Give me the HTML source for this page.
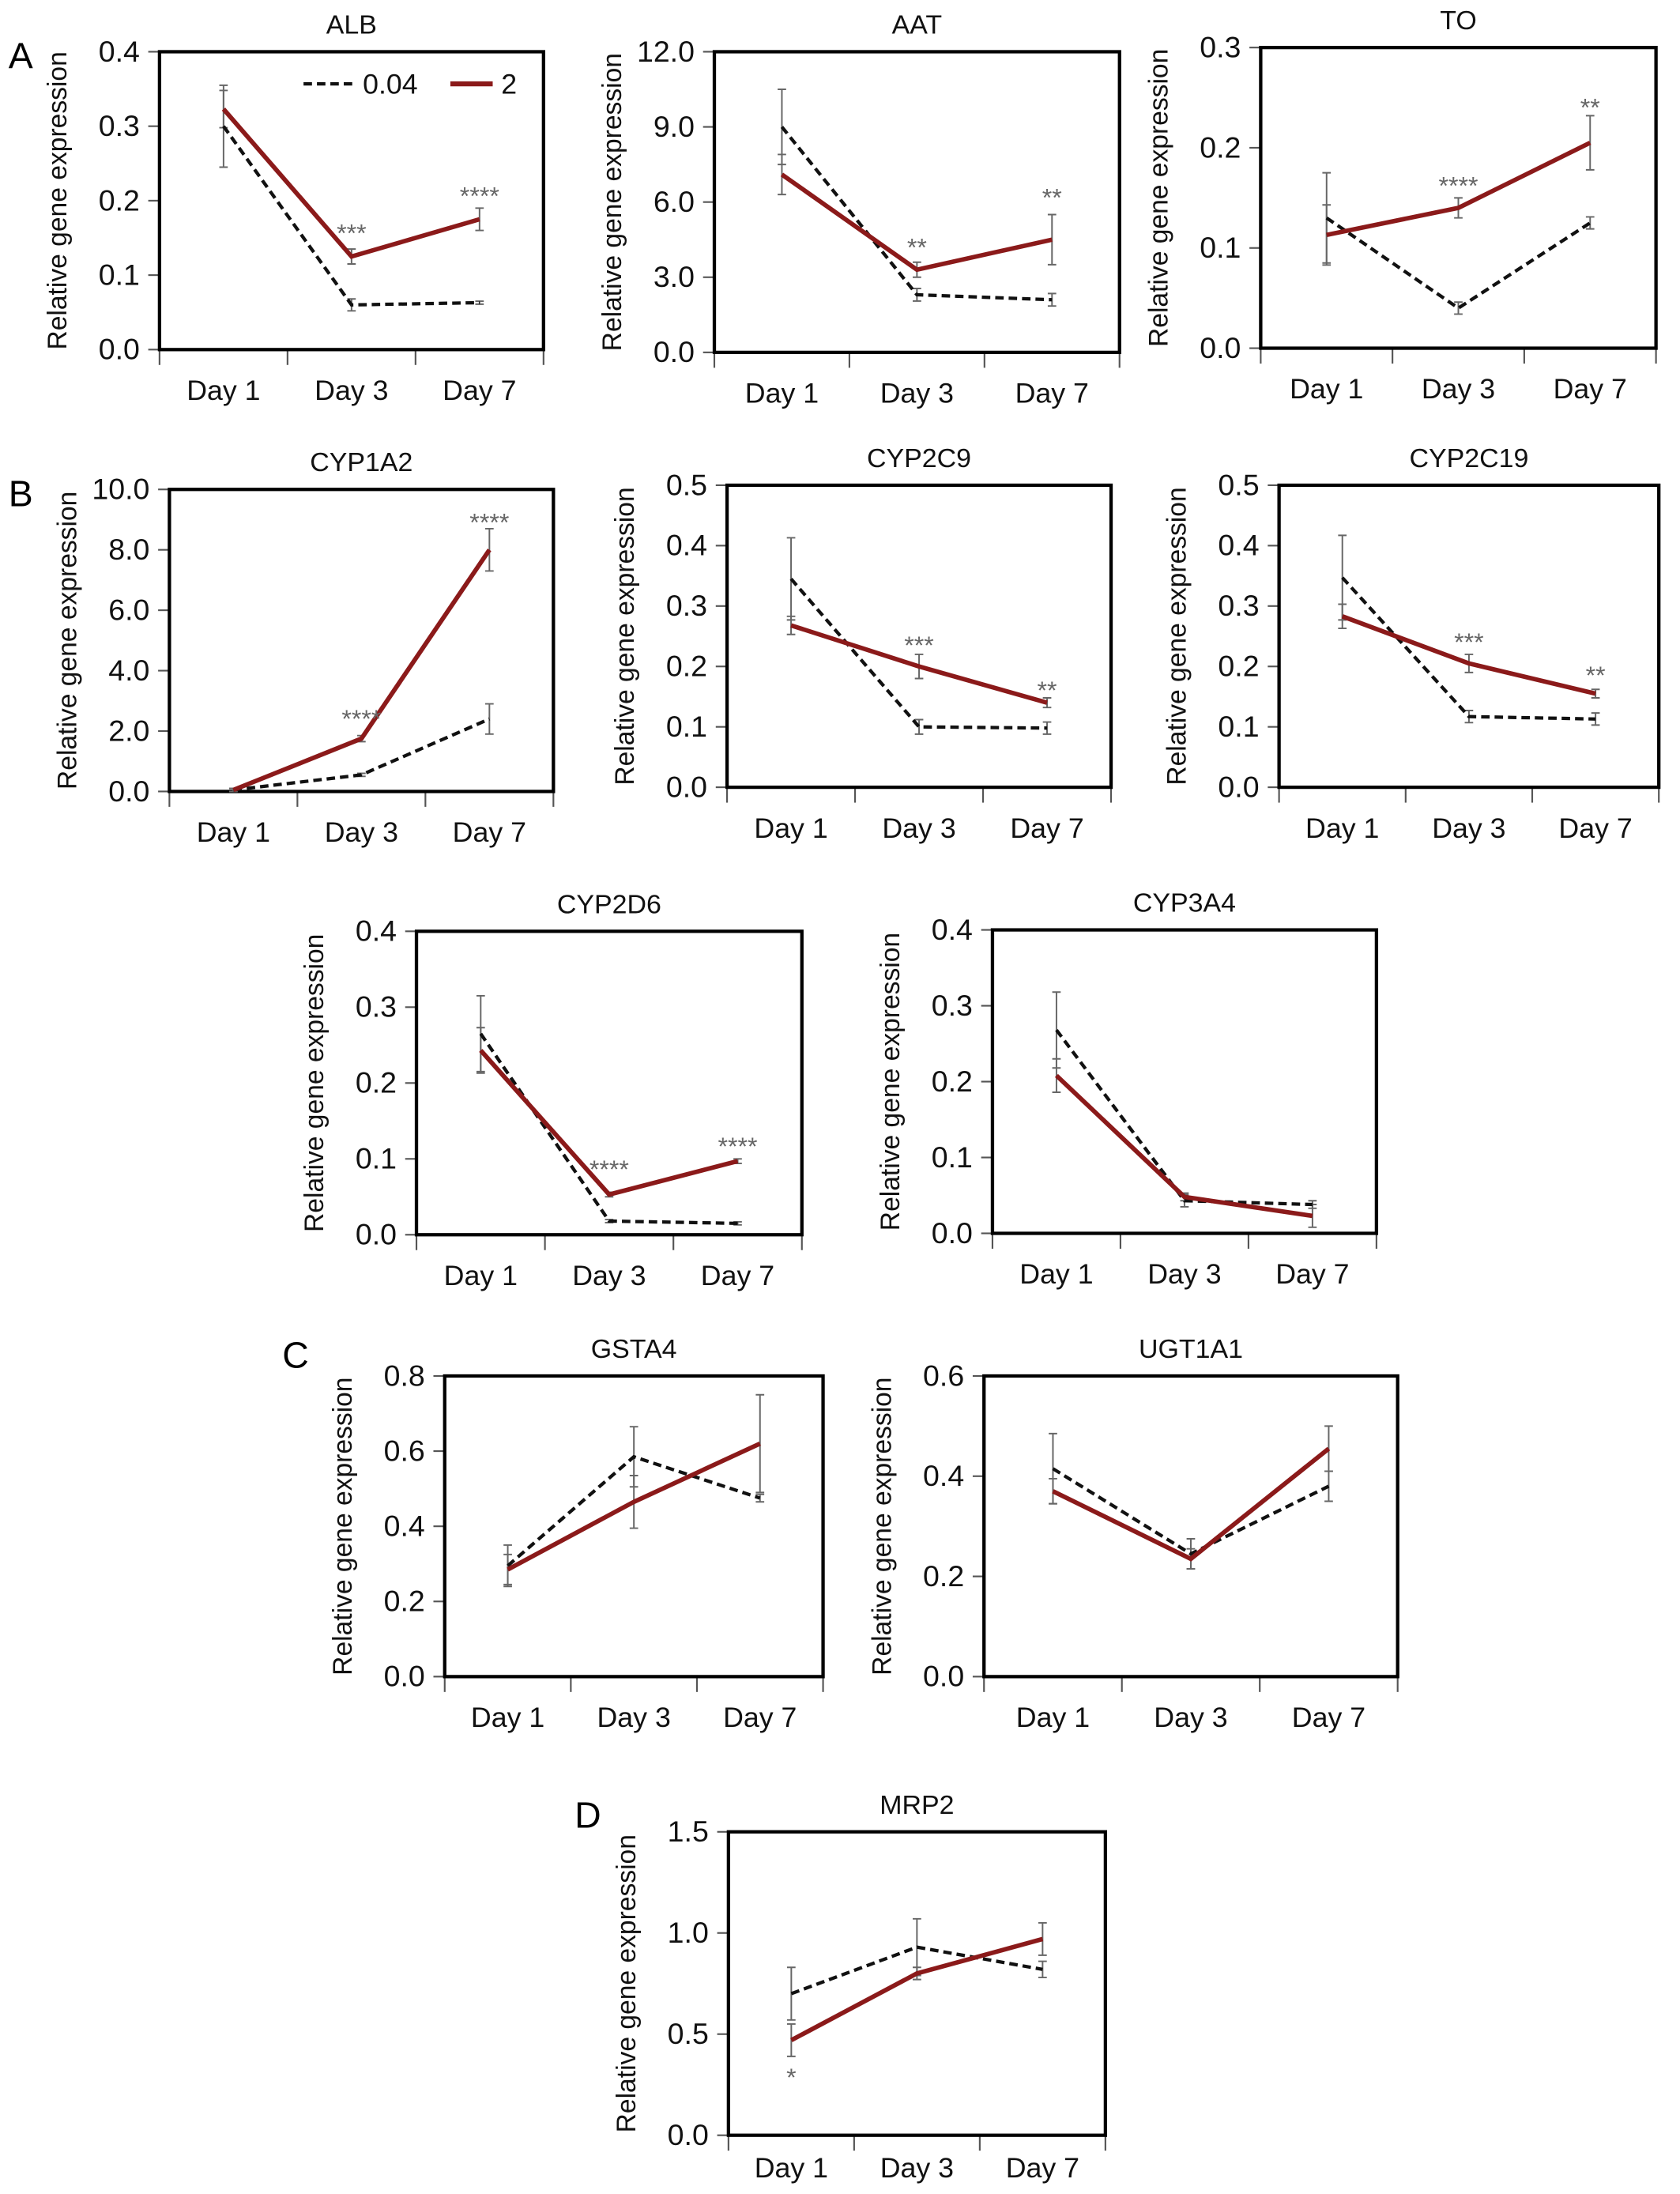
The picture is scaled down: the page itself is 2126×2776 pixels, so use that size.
<!DOCTYPE html>
<html><head><meta charset="utf-8">
<style>
html,body{margin:0;padding:0;background:#fff;}
svg{display:block;font-family:"Liberation Sans",Arial,sans-serif;}
</style></head>
<body>
<svg id="fig" xmlns="http://www.w3.org/2000/svg" width="2126" height="2776" viewBox="0 0 1190 1569" preserveAspectRatio="none">
<rect x="0" y="0" width="1190" height="1569" fill="#fff"/>
<text x="6" y="49" font-size="26">A</text>
<text x="6" y="362" font-size="26">B</text>
<text x="200" y="978" font-size="26">C</text>
<text x="407" y="1307" font-size="26">D</text>
</svg>
<script>
const days = ["Day 1","Day 3","Day 7"];

const ALB_low = [0.30,0.06,0.063];   const ALB_lowErr = [0.055,0.008,0.002];
const ALB_high = [0.323,0.125,0.175]; const ALB_highErr = [0.025,0.01,0.015];
const ALB_stars = ["","***","****"]; const ALB_starVal = [0,0.16,0.21];
const ALB_ticks = ["0.0","0.1","0.2","0.3","0.4"];

const AAT_low = [9.0,2.3,2.1];   const AAT_lowErr = [1.5,0.25,0.25];
const AAT_high = [7.1,3.3,4.5];  const AAT_highErr = [0.8,0.3,1.0];
const AAT_stars = ["","**","**"]; const AAT_starVal = [0,4.3,6.3];
const AAT_ticks = ["0.0","3.0","6.0","9.0","12.0"];

const TO_low = [0.13,0.04,0.125];  const TO_lowErr = [0.045,0.006,0.006];
const TO_high = [0.113,0.14,0.205]; const TO_highErr = [0.03,0.01,0.027];
const TO_stars = ["","****","**"]; const TO_starVal = [0,0.165,0.243];
const TO_ticks = ["0.0","0.1","0.2","0.3"];

const CYP1A2_low = [0.05,0.55,2.4];  const CYP1A2_lowErr = [0.05,0.05,0.5];
const CYP1A2_high = [0.05,1.75,8.0]; const CYP1A2_highErr = [0.05,0.1,0.7];
const CYP1A2_stars = ["","****","****"]; const CYP1A2_starVal = [0,2.5,9.0];
const CYP1A2_ticks = ["0.0","2.0","4.0","6.0","8.0","10.0"];

const CYP2C9_low = [0.345,0.1,0.098];  const CYP2C9_lowErr = [0.068,0.012,0.01];
const CYP2C9_high = [0.268,0.2,0.14];  const CYP2C9_highErr = [0.015,0.02,0.008];
const CYP2C9_stars = ["","***","**"]; const CYP2C9_starVal = [0,0.24,0.165];
const CYP2C9_ticks = ["0.0","0.1","0.2","0.3","0.4","0.5"];

const CYP2C19_low = [0.347,0.117,0.113]; const CYP2C19_lowErr = [0.07,0.01,0.01];
const CYP2C19_high = [0.283,0.205,0.155]; const CYP2C19_highErr = [0.02,0.015,0.007];
const CYP2C19_stars = ["","***","**"]; const CYP2C19_starVal = [0,0.245,0.19];
const CYP2C19_ticks = ["0.0","0.1","0.2","0.3","0.4","0.5"];

const CYP2D6_low = [0.265,0.018,0.015]; const CYP2D6_lowErr = [0.05,0.002,0.002];
const CYP2D6_high = [0.243,0.053,0.097]; const CYP2D6_highErr = [0.03,0.003,0.003];
const CYP2D6_stars = ["","****","****"]; const CYP2D6_starVal = [0,0.09,0.12];
const CYP2D6_ticks = ["0.0","0.1","0.2","0.3","0.4"];

const CYP3A4_low = [0.268,0.043,0.038]; const CYP3A4_lowErr = [0.05,0.008,0.005];
const CYP3A4_high = [0.208,0.048,0.023]; const CYP3A4_highErr = [0.022,0.005,0.015];
const CYP3A4_stars = ["","",""]; const CYP3A4_starVal = [0,0,0];
const CYP3A4_ticks = ["0.0","0.1","0.2","0.3","0.4"];

const GSTA4_low = [0.295,0.585,0.475]; const GSTA4_lowErr = [0.055,0.08,0.01];
const GSTA4_high = [0.285,0.465,0.62]; const GSTA4_highErr = [0.04,0.07,0.13];
const GSTA4_stars = ["","",""]; const GSTA4_starVal = [0,0,0];
const GSTA4_ticks = ["0.0","0.2","0.4","0.6","0.8"];

const UGT1A1_low = [0.415,0.245,0.38]; const UGT1A1_lowErr = [0.07,0.03,0.03];
const UGT1A1_high = [0.37,0.235,0.455]; const UGT1A1_highErr = [0.025,0.02,0.045];
const UGT1A1_stars = ["","",""]; const UGT1A1_starVal = [0,0,0];
const UGT1A1_ticks = ["0.0","0.2","0.4","0.6"];

const MRP2_low = [0.70,0.93,0.82]; const MRP2_lowErr = [0.13,0.14,0.04];
const MRP2_high = [0.47,0.80,0.97]; const MRP2_highErr = [0.08,0.03,0.08];
const MRP2_stars = ["*","",""]; const MRP2_starVal = [0.3,0,0];
const MRP2_ticks = ["0.0","0.5","1.0","1.5"];

const svg = document.getElementById('fig');
const NS = "http://www.w3.org/2000/svg";
function mk(tag, attrs, parent){
  const e = document.createElementNS(NS, tag);
  for (const k in attrs) e.setAttribute(k, attrs[k]);
  (parent||svg).appendChild(e);
  return e;
}

function panel(title, x0, x1, y0, y1, ticks, low, lowErr, high, highErr, stars, starVal, dayOff){
  dayOff = dayOff || 36;
  const g = mk('g', {});
  
  
  const ymax = parseFloat(ticks[ticks.length-1]);
  const ys = v => y1 - (v / ymax) * (y1 - y0);
  const seg = (x1 - x0) / 3;
  const xs = i => x0 + seg * (i + 0.5);

  const t = mk('text', {x:(x0+x1)/2, y:y0-13, 'font-size':19, 'text-anchor':'middle', fill:'#111'}, g);
  t.textContent = title;
  
  

  const yl = mk('text', {x:0, y:0, 'font-size':19, 'text-anchor':'middle', fill:'#111',
    transform:`translate(${x0-66},${(y0+y1)/2}) rotate(-90)`}, g);
  yl.textContent = 'Relative gene expression';
  
  

  ticks.forEach(tk => {
    const y = ys(parseFloat(tk));
    mk('line', {x1:x0-8, x2:x0, y1:y, y2:y, stroke:'#555', 'stroke-width':1.2}, g);
    const tl = mk('text', {x:x0-14, y:y+7, 'font-size':21, 'text-anchor':'end', fill:'#111'}, g);
    tl.textContent = tk;
    
    
  });
  for (let i = 0; i <= 3; i++) {
    const x = x0 + seg * i;
    mk('line', {x1:x, x2:x, y1:y1, y2:y1+11, stroke:'#555', 'stroke-width':1.2}, g);
  }
  days.forEach((d, i) => {
    const dl = mk('text', {x:xs(i), y:y1+dayOff, 'font-size':20, 'text-anchor':'middle', fill:'#111'}, g);
    dl.textContent = d;
    
    
  });

  const box = mk('rect', {x:x0, y:y0, width:x1-x0, height:y1-y0, fill:'none', stroke:'#000', 'stroke-width':2.4}, g);
  
  

  function errs(vals, e, name){
    vals.forEach((v, i) => {
      const x = xs(i), a = ys(v + e[i]), b = ys(Math.max(0, v - e[i]));
      const eb = mk('path', {d:`M${x},${a}V${b}M${x-3},${a}H${x+3}M${x-3},${b}H${x+3}`, stroke:'#666', 'stroke-width':1.1, fill:'none'}, g);
      
      
    });
  }
  errs(low, lowErr, 'low-dose');
  errs(high, highErr, 'high-dose');

  const pl = mk('polyline', {points: low.map((v,i)=>xs(i)+','+ys(v)).join(' '), fill:'none', stroke:'#111', 'stroke-width':2.4, 'stroke-dasharray':'6 3.5'}, g);
  
  
  const ph = mk('polyline', {points: high.map((v,i)=>xs(i)+','+ys(v)).join(' '), fill:'none', stroke:'#8b1a1a', 'stroke-width':3.2}, g);
  
  

  stars.forEach((s, i) => {
    if (!s) return;
    const st = mk('text', {x:xs(i), y:ys(starVal[i])+8, 'font-size':18, 'text-anchor':'middle', fill:'#666'}, g);
    st.textContent = s;
    
    
  });
  return g;
}

panel('ALB', 113, 385, 37, 250, ALB_ticks, ALB_low, ALB_lowErr, ALB_high, ALB_highErr, ALB_stars, ALB_starVal);
panel('AAT', 506, 793, 37, 252, AAT_ticks, AAT_low, AAT_lowErr, AAT_high, AAT_highErr, AAT_stars, AAT_starVal);
panel('TO', 893, 1173, 34, 249, TO_ticks, TO_low, TO_lowErr, TO_high, TO_highErr, TO_stars, TO_starVal);
panel('CYP1A2', 120, 392, 350, 566, CYP1A2_ticks, CYP1A2_low, CYP1A2_lowErr, CYP1A2_high, CYP1A2_highErr, CYP1A2_stars, CYP1A2_starVal);
panel('CYP2C9', 515, 787, 347, 563, CYP2C9_ticks, CYP2C9_low, CYP2C9_lowErr, CYP2C9_high, CYP2C9_highErr, CYP2C9_stars, CYP2C9_starVal);
panel('CYP2C19', 906, 1175, 347, 563, CYP2C19_ticks, CYP2C19_low, CYP2C19_lowErr, CYP2C19_high, CYP2C19_highErr, CYP2C19_stars, CYP2C19_starVal);
panel('CYP2D6', 295, 568, 666, 883, CYP2D6_ticks, CYP2D6_low, CYP2D6_lowErr, CYP2D6_high, CYP2D6_highErr, CYP2D6_stars, CYP2D6_starVal);
panel('CYP3A4', 703, 975, 665, 882, CYP3A4_ticks, CYP3A4_low, CYP3A4_lowErr, CYP3A4_high, CYP3A4_highErr, CYP3A4_stars, CYP3A4_starVal);
panel('GSTA4', 315, 583, 984, 1199, GSTA4_ticks, GSTA4_low, GSTA4_lowErr, GSTA4_high, GSTA4_highErr, GSTA4_stars, GSTA4_starVal);
panel('UGT1A1', 697, 990, 984, 1199, UGT1A1_ticks, UGT1A1_low, UGT1A1_lowErr, UGT1A1_high, UGT1A1_highErr, UGT1A1_stars, UGT1A1_starVal);
panel('MRP2', 516, 783, 1310, 1527, MRP2_ticks, MRP2_low, MRP2_lowErr, MRP2_high, MRP2_highErr, MRP2_stars, MRP2_starVal, 30);

// legend in ALB panel
const lg = mk('g', {});


mk('line', {x1:215, x2:251, y1:60, y2:60, stroke:'#111', 'stroke-width':2.4, 'stroke-dasharray':'6 3.5'}, lg);
const l1 = mk('text', {x:257, y:67, 'font-size':20, fill:'#111'}, lg);
l1.textContent = '0.04';


mk('line', {x1:319, x2:349, y1:60, y2:60, stroke:'#8b1a1a', 'stroke-width':3.5}, lg);
const l2 = mk('text', {x:355, y:67, 'font-size':20, fill:'#111'}, lg);
l2.textContent = '2';


</script>
</body></html>
